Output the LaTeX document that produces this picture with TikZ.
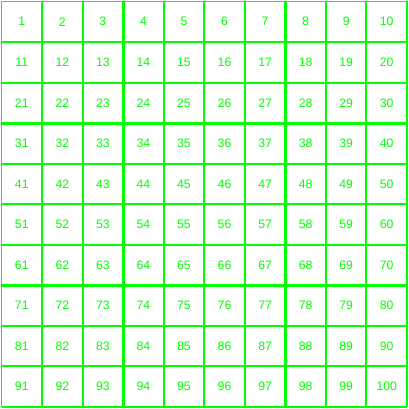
\documentclass[tikz,border=0pt]{standalone}
\usepackage{fontspec}
\setmainfont{Liberation Sans}
\usetikzlibrary{positioning}
\definecolor{gridgreen}{RGB}{0,255,0}

\begin{document}
\begin{tikzpicture}[
    gridline/.style={gridgreen, line width=1.4pt},
    thickline/.style={gridgreen, line width=2.1pt},
    numlabel/.style={text=gridgreen, font=\fontsize{8.6}{10}\selectfont, inner sep=0pt}
  ]
  \useasboundingbox (-0.037,0.037) rectangle (10.049,-10.049);

  % マス目
  \foreach \k in {0,...,10} {
    \draw[gridline] (\k,0) -- (\k,-10);
    \draw[gridline] (0,-\k) -- (10,-\k);
  }
  \foreach \k in {3,7} {
    \draw[thickline] (\k,0) -- (\k,-10);
    \draw[thickline] (0,-\k) -- (10,-\k);
  }

  % 数字 1〜100
  \foreach \r in {0,...,9} {
    \foreach \c in {1,...,10} {
      \pgfmathtruncatemacro{\n}{10*\r+\c}
      \node[numlabel] (n\n) at (\c-0.5, -\r-0.5) {\n};
    }
  }
\end{tikzpicture}
\end{document}
